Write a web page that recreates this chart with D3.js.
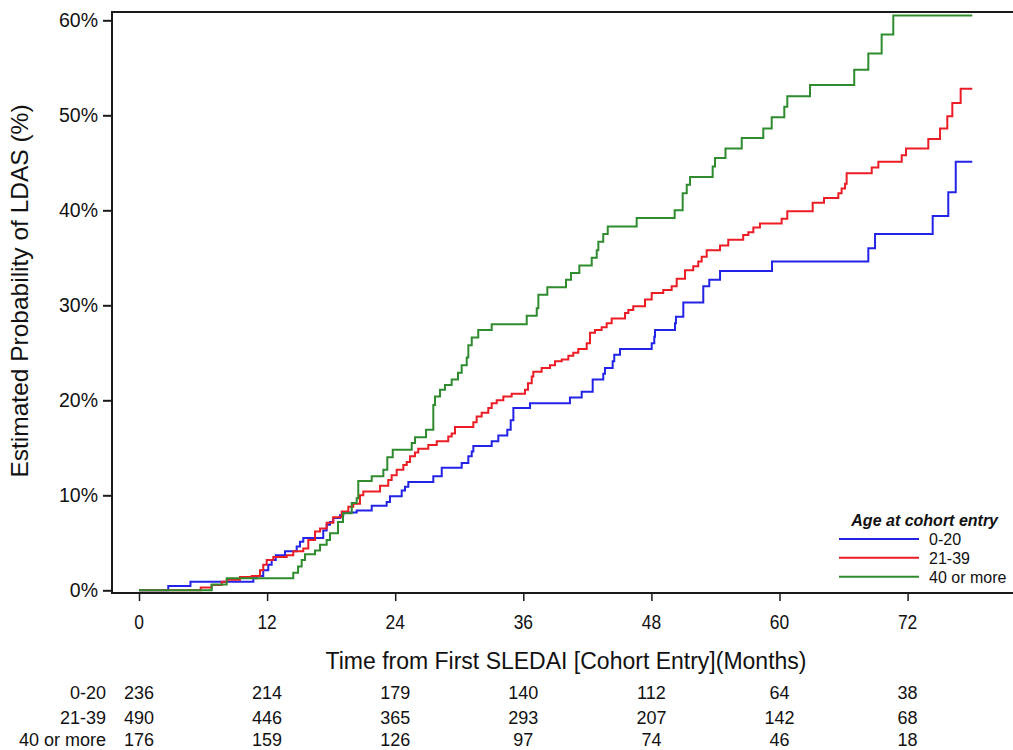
<!DOCTYPE html>
<html>
<head>
<meta charset="utf-8">
<script src="https://cdn.jsdelivr.net/npm/d3@7"></script>
<style>
  body { margin: 0; background: #fff; }
  svg { display: block; font-family: Arial, "Liberation Sans", Helvetica, sans-serif; }
</style>
</head>
<body>
<svg id="km" width="1013" height="750"></svg>
<script>
// groups + colours
var groups = ["0-20", "21-39", "40 or more"];
var colors = ["#2323e8", "#ec1c24", "#2e8b2e"];

// x ticks (months) and y ticks (%)
var monthTicks = [0, 12, 24, 36, 48, 60, 72];
var pctTicks = [0, 10, 20, 30, 40, 50, 60];

// numbers at risk, one row per group
var risk0_20 = [236, 214, 179, 140, 112, 64, 38];
var risk21_39 = [490, 446, 365, 293, 207, 142, 68];
var risk40 = [176, 159, 126, 97, 74, 46, 18];

// step curves: [month, cumulative %]
var km0_20 = [[0,0],[2.74,0.45],[4.82,0.9],[10.71,1.26],[11.03,1.5],[11.64,2.1],[12.11,2.7],[12.43,3.2],
  [12.81,3.7],[13.68,4.1],[14.77,4.6],[15.08,5.1],[15.39,5.5],[17.26,6.3],[17.58,6.9],[17.89,7.2],
  [18.2,7.6],[18.83,7.9],[19.14,8.2],[20.39,8.4],[21.8,8.9],[23.2,9.3],[23.51,9.9],[24.61,10.5],
  [24.92,10.9],[25.23,11.4],[27.57,12.0],[28.36,12.9],[30.23,13.4],[30.85,14.1],[31.17,14.6],
  [31.32,15.2],[33.04,15.7],[33.66,16.3],[34.5,16.9],[34.82,17.9],[35.07,19.2],[36.63,19.7],
  [40.37,20.3],[41.47,20.9],[42.5,22.2],[43.49,22.8],[43.65,23.4],[44.37,24.1],[44.52,24.8],
  [45.06,25.4],[48.03,26.0],[48.27,26.7],[48.34,27.4],[50.21,28.1],[50.3,28.8],[50.99,30.3],
  [52.86,32.0],[53.42,32.7],[54.43,33.6],[59.3,34.6],[68.32,36.0],[68.95,37.5],[74.35,39.4],
  [75.81,41.9],[76.51,45.1]];

var km21_39 = [[0,0],[5.78,0.3],[6.81,0.56],[7.75,0.9],[8.22,1.1],[9.46,1.4],[10.56,1.5],[11.33,2.1],
  [11.64,2.7],[11.96,3.2],[12.58,3.5],[13.84,3.7],[14.45,4.1],[15.39,4.4],[15.86,5.3],[16.49,6.2],
  [16.96,6.5],[17.58,7.1],[18.2,7.7],[18.99,8.3],[19.61,8.8],[20.07,9.1],[20.7,10.0],[21.01,10.4],
  [22.58,11.0],[23.35,11.6],[23.67,12.1],[24.14,12.7],[24.76,13.2],[25.08,13.5],[25.39,14.1],
  [25.85,14.5],[26.16,14.9],[27.1,15.3],[27.89,15.7],[28.97,16.2],[29.29,16.5],[29.6,17.2],
  [31.32,17.7],[31.63,18.3],[32.1,18.7],[32.72,19.2],[33.04,19.7],[33.51,20.0],[34.13,20.4],
  [34.91,20.7],[36.16,21.1],[36.44,21.8],[36.79,22.5],[36.94,23.0],[37.72,23.4],[38.5,23.7],
  [38.97,24.1],[39.6,24.3],[40.22,24.7],[40.68,25.0],[41.15,25.4],[41.94,26.0],[42.25,27.1],
  [42.72,27.4],[43.34,27.7],[43.81,28.1],[44.28,28.6],[45.53,29.2],[45.84,29.5],[46.3,29.9],
  [47.4,30.6],[48.03,31.3],[49.11,31.6],[49.9,32.0],[50.37,32.8],[51.15,33.7],[51.92,34.1],
  [52.39,34.6],[52.71,35.1],[53.18,35.8],[54.43,36.3],[55.2,36.9],[56.6,37.4],[57.08,37.7],
  [57.55,38.2],[58.17,38.6],[60.2,39.1],[60.73,39.9],[63.11,40.8],[64.17,41.3],[65.51,41.8],
  [65.82,42.3],[66.14,42.8],[66.29,43.9],[68.64,44.5],[69.26,45.1],[71.45,45.8],[71.85,46.5],
  [73.94,47.5],[75.04,48.6],[75.72,49.9],[76.19,51.3],[76.97,52.8]];

var km40 = [[0,0],[6.81,0.6],[8.22,1.26],[14.45,1.85],[14.9,2.5],[15.24,3.2],[15.55,3.8],[16.49,4.2],
  [16.96,4.8],[17.58,5.3],[17.89,6.0],[18.64,7.2],[19.11,8.1],[19.93,9.2],[20.39,9.7],[20.54,11.5],
  [21.8,12.0],[22.89,12.7],[23.26,14.0],[23.77,14.8],[25.55,15.5],[25.86,16.1],[26.89,16.9],
  [27.57,19.5],[27.73,20.4],[28.2,21.1],[28.66,21.6],[29.29,22.2],[29.88,22.9],[30.23,23.7],
  [30.7,24.5],[30.85,25.8],[31.17,26.6],[31.78,27.4],[33.04,28.0],[36.32,28.9],[37.26,29.7],
  [37.41,31.1],[38.25,31.9],[40.0,32.7],[40.47,33.4],[41.25,34.2],[42.41,35.0],[42.88,35.8],
  [43.03,36.7],[43.49,37.5],[43.91,38.3],[46.62,39.2],[50.18,40.0],[50.93,41.8],[51.31,42.7],
  [51.62,43.5],[53.74,44.6],[53.96,45.5],[54.94,46.5],[56.46,47.6],[58.48,48.6],[59.27,49.8],
  [60.45,50.9],[60.73,52.0],[62.86,53.2],[67.0,54.8],[68.32,56.5],[69.57,58.5],[70.66,60.5]];

var lastMonth = 78.06;

var svg = d3.select("svg#km");

var frame = {left: 112, right: 1016, top: 12, bottom: 593};

var x = d3.scaleLinear().domain([0, 72]).range([139, 907.6]);
var y = d3.scaleLinear().domain([0, 60]).range([590.3, 20.3]);

// curves
var curves = [km0_20, km21_39, km40];
var line = d3.line()
    .x(function(d) { return x(d[0]); })
    .y(function(d) { return y(d[1]); })
    .curve(d3.curveStepAfter);

svg.selectAll("path.km")
  .data(curves)
  .enter().append("path")
    .attr("class", "km")
    .attr("fill", "none")
    .attr("stroke", function(d, i) { return colors[i]; })
    .attr("stroke-width", 2)
    .attr("d", function(d) {
      return line(d.concat([[lastMonth, d[d.length - 1][1]]]));
    });

// frame
svg.append("rect")
    .attr("x", frame.left)
    .attr("y", frame.top)
    .attr("width", frame.right - frame.left)
    .attr("height", frame.bottom - frame.top)
    .attr("fill", "none")
    .attr("stroke", "#1a1a1a")
    .attr("stroke-width", 2);

// y axis
var yAxis = svg.append("g")
    .attr("transform", "translate(" + frame.left + ",0)")
    .call(d3.axisLeft(y).tickValues(pctTicks).tickSize(9).tickPadding(5)
      .tickFormat(function(d) { return d + "%"; }));
yAxis.select(".domain").remove();
yAxis.selectAll(".tick line").attr("stroke", "#1a1a1a").attr("stroke-width", 2);
yAxis.selectAll(".tick text")
    .attr("font-size", 19.5)
    .attr("fill", "#111")
    .attr("font-family", "Arial, 'Liberation Sans', sans-serif");

// x axis
var xAxis = svg.append("g")
    .attr("transform", "translate(0," + frame.bottom + ")")
    .call(d3.axisBottom(x).tickValues(monthTicks).tickSize(8).tickFormat(""));
xAxis.select(".domain").remove();
xAxis.selectAll(".tick line").attr("stroke", "#1a1a1a").attr("stroke-width", 1.5);

// tick labels are a bit narrow in the original
function narrow(sel, px, py, sx) {
  return sel.attr("transform", "translate(" + px + "," + py + ") scale(" + sx + ",1)");
}

svg.selectAll("text.xtick")
  .data(monthTicks)
  .enter().append("text")
    .attr("class", "xtick")
    .attr("text-anchor", "middle")
    .attr("font-size", 20)
    .attr("fill", "#111")
    .each(function(d) { narrow(d3.select(this), x(d), 629, 0.87); })
    .text(function(d) { return d; });

svg.append("text")
    .attr("x", 566)
    .attr("y", 669)
    .attr("text-anchor", "middle")
    .attr("font-size", 23)
    .attr("fill", "#111")
    .text("Time from First SLEDAI [Cohort Entry](Months)");

svg.append("text")
    .attr("transform", "translate(28,291) rotate(-90)")
    .attr("text-anchor", "middle")
    .attr("font-size", 24.5)
    .attr("fill", "#111")
    .text("Estimated Probability of LDAS (%)");

// number at risk table
var riskRows = [risk0_20, risk21_39, risk40];
var rowY = [699, 723.5, 746];
riskRows.forEach(function(row, r) {
  svg.append("text")
      .attr("x", 106)
      .attr("y", rowY[r])
      .attr("text-anchor", "end")
      .attr("font-size", 18)
      .attr("fill", "#111")
      .text(groups[r]);
  svg.selectAll("text.risk" + r)
    .data(row)
    .enter().append("text")
      .attr("class", "risk" + r)
      .attr("x", function(d, i) { return x(monthTicks[i]); })
      .attr("y", rowY[r])
      .attr("text-anchor", "middle")
      .attr("font-size", 18)
      .attr("fill", "#111")
      .text(function(d) { return d; });
});

// legend
var legend = svg.append("g");
legend.append("text")
    .attr("x", 998)
    .attr("y", 525.5)
    .attr("text-anchor", "end")
    .attr("font-size", 16)
    .attr("font-weight", "bold")
    .attr("font-style", "italic")
    .attr("fill", "#111")
    .text("Age at cohort entry");
var legY = [539, 557.7, 576.7];
groups.forEach(function(g, i) {
  legend.append("line")
      .attr("x1", 839).attr("x2", 919)
      .attr("y1", legY[i]).attr("y2", legY[i])
      .attr("stroke", colors[i])
      .attr("stroke-width", 2);
  legend.append("text")
      .attr("x", 929)
      .attr("y", legY[i] + 6)
      .attr("font-size", 16)
      .attr("fill", "#111")
      .text(g);
});
</script>
</body>
</html>
